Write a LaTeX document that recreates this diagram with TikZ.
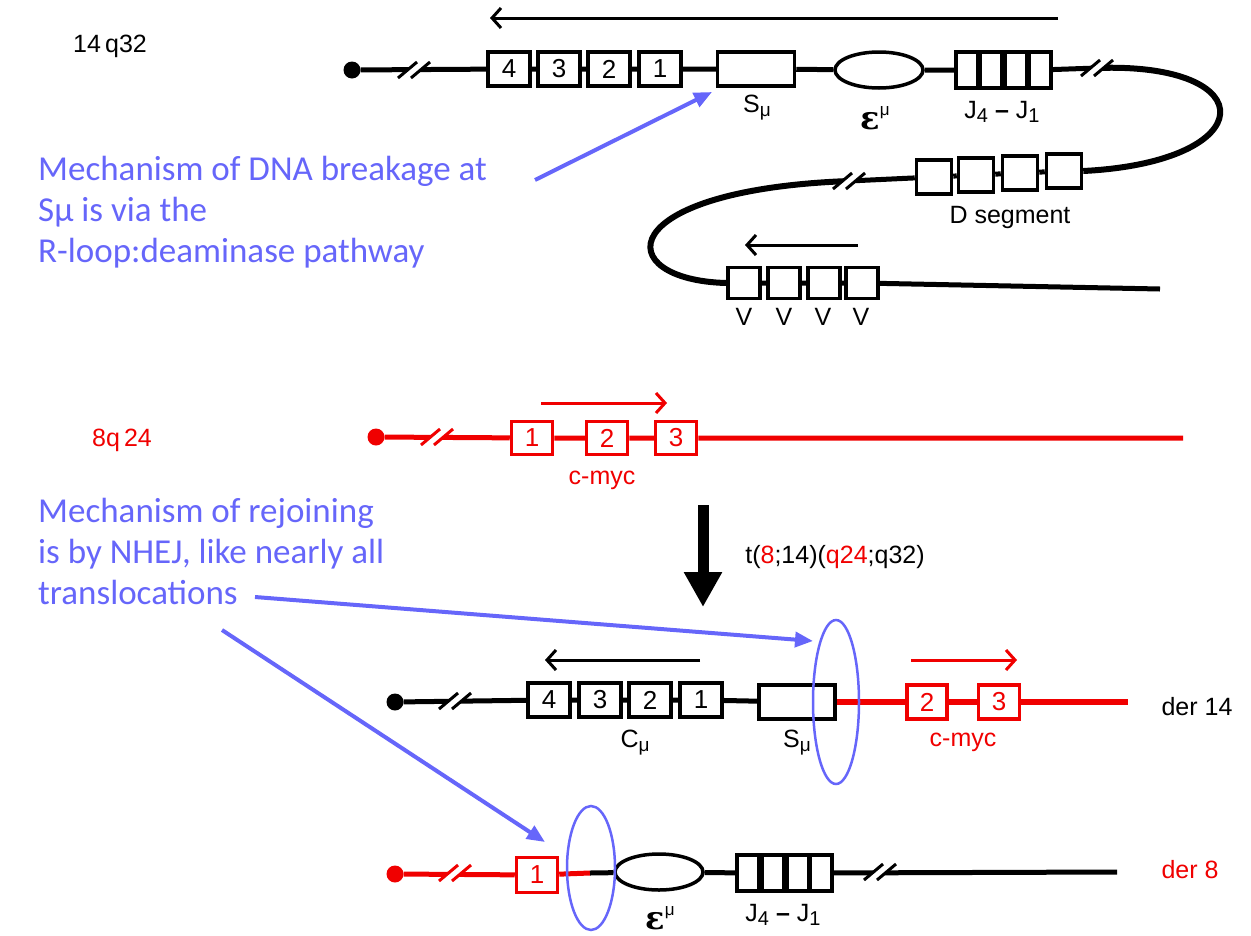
\documentclass[tikz,border=0pt]{standalone}
\usepackage{fontspec}
\setmainfont{Liberation Sans}
\newfontfamily\notefont{Carlito}
\newfontfamily\epsfont{DejaVu Serif}
\usepackage{xcolor}
\usetikzlibrary{
	arrows.meta,
	shapes.geometric
}
\definecolor{NoteBlue}{RGB}{102,102,250}
\definecolor{MycRed}{RGB}{240,0,0}
\newcommand{\lblsize}{\fontsize{25}{30}\selectfont}
\newcommand{\boxsize}{\fontsize{26}{28}\selectfont}
\newcommand{\notesize}{\fontsize{35}{41}\selectfont}
\newcommand{\musub}{\raisebox{-0.3ex}{\fontsize{19}{19}\selectfont μ}}
\newcommand{\Smu}{S\musub}
\newcommand{\Cmu}{C\musub}
\newcommand{\Emu}{{\epsfont\bfseries\fontsize{32}{32}\selectfont ε}\raisebox{1.1ex}{\fontsize{17}{17}\selectfont μ}}
\newcommand{\Jrange}{J\raisebox{-0.3ex}{\fontsize{20}{20}\selectfont 4} \textbf{–} J\raisebox{-0.3ex}{\fontsize{20}{20}\selectfont 1}}
\tikzset{
	chrom/.style={line width=5pt},
	gbox/.style={draw, line width=3.5pt, fill=white, minimum width=42pt, minimum height=34pt, inner sep=0pt, font=\boxsize},
	jbox/.style={gbox, minimum width=22pt, minimum height=36pt},
	telo/.style={circle, fill, inner sep=0pt, minimum size=17pt},
	enh/.style={ellipse, draw, line width=3.5pt, fill=white, minimum width=88pt, minimum height=36pt},
	lbl/.style={font=\lblsize, inner sep=0pt},
	dirarrow/.style={line width=3pt, -{Straight Barb[length=9pt,width=20pt]}},
	note/.style={font=\notefont\notesize, text=NoteBlue, align=left, inner sep=0pt},
	notearrow/.style={NoteBlue, line width=4pt, -{Triangle[length=18pt,width=15pt]}},
	joinring/.style={ellipse, draw=NoteBlue, line width=2.5pt, inner sep=0pt},
	gapmark/.pic={
		\fill[white] (-16,8) -- (3,-8) -- (16,-8) -- (-3,8) -- cycle;
		\draw[line width=3pt] (-16,8) -- (3,-8) (-3,8) -- (16,-8);
	}
}

\begin{document}
\begin{tikzpicture}[x=1pt, y=-1pt]
	\useasboundingbox (0,0) rectangle (1251,935);
	% 14q32
	\node[lbl] (lab14) at (110,46) {14\,q32};
	\node[telo] (tel14) at (352,70) {};
	\node[gbox] (c4) at (509,69) {4};
	\node[gbox] (c3) at (559,69) {3};
	\node[gbox] (c2) at (609,69) {2};
	\node[gbox] (c1) at (660,69) {1};
	\node[gbox, minimum width=77pt] (smu) at (756,69) {};
	\node[enh] (emu) at (879,70) {};
	\node[jbox] (j4) at (967,70) {};
	\node[jbox] (j3) at (991,70) {};
	\node[jbox] (j2) at (1016,70) {};
	\node[jbox] (j1) at (1040,70) {};
	\node[gbox, minimum width=35pt] (d1) at (934,177) {};
	\node[gbox, minimum width=35pt] (d2) at (976,175) {};
	\node[gbox, minimum width=35pt] (d3) at (1020,173) {};
	\node[gbox, minimum width=35pt] (d4) at (1064,171) {};
	\node[gbox, minimum width=32pt, minimum height=31pt] (v1) at (744,283) {};
	\node[gbox, minimum width=32pt, minimum height=31pt] (v2) at (784,283) {};
	\node[gbox, minimum width=32pt, minimum height=31pt] (v3) at (824,283) {};
	\node[gbox, minimum width=32pt, minimum height=31pt] (v4) at (862,283) {};
	\coordinate (cut14a) at (414,70);
	\coordinate (cut14b) at (1097,68);
	\coordinate (cut14c) at (849,181);
	\coordinate (end14) at (1160,289);
	\draw[chrom] (tel14) -- (c4) -- (c3) -- (c2) -- (c1) -- (smu) -- (emu) -- (j4) -- (j3) -- (j2) -- (j1) -- (cut14b);
	\draw[chrom, line width=6pt] (cut14b) .. controls (1265,62) and (1262,162) .. (d4.east);
	\draw[chrom] (d4) -- (d3) -- (d2) -- (d1) -- (cut14c);
	\draw[chrom, line width=6pt] (cut14c) .. controls (610,190) and (610,280) .. (v1.west);
	\draw[chrom] (v1) -- (v2) -- (v3) -- (v4) -- (end14);
	\pic at (cut14a) {gapmark};
	\pic at (cut14b) {gapmark};
	\pic at (cut14c) {gapmark};
	\coordinate (dir14a) at (1058,18);
	\coordinate (dir14b) at (490,18);
	\draw[dirarrow] (dir14a) -- (dir14b);
	\coordinate (dirVa) at (858,245);
	\coordinate (dirVb) at (745,245);
	\draw[dirarrow] (dirVa) -- (dirVb);
	\node[lbl] (smulab) at (757,108) {\Smu};
	\node[lbl] (emulab) at (875,118) {\Emu};
	\node[lbl] (jlab) at (1002,112) {\Jrange};
	\node[lbl] (dlab) at (1010,217) {D segment};
	\node[lbl] (vlab1) at (744,317) {V};
	\node[lbl] (vlab2) at (784,317) {V};
	\node[lbl] (vlab3) at (823,317) {V};
	\node[lbl] (vlab4) at (861,317) {V};

	% 8q24
	\begin{scope}[MycRed]
		\node[lbl] (lab8) at (122,440) {8q\,24};
		\node[telo] (tel8) at (376,437) {};
		\node[gbox, draw=MycRed, minimum width=41pt, minimum height=33pt] (m1) at (532,438) {1};
		\node[gbox, draw=MycRed, minimum width=41pt, minimum height=33pt] (m2) at (607,438) {2};
		\node[gbox, draw=MycRed, minimum width=41pt, minimum height=33pt] (m3) at (676,438) {3};
		\coordinate (cut8) at (437,437);
		\coordinate (end8) at (1183,438);
		\draw[chrom] (tel8) -- (m1) -- (m2) -- (m3) -- (end8);
		\pic at (cut8) {gapmark};
		\coordinate (dir8a) at (541,403);
		\coordinate (dir8b) at (667,403);
		\draw[dirarrow] (dir8a) -- (dir8b);
		\node[lbl] (myclab) at (602,480) {c-myc};
	\end{scope}

	% translocation
	\coordinate (bigA) at (703,505);
	\coordinate (bigB) at (703,607);
	\draw[line width=11pt, -{Triangle[length=35pt,width=36pt]}] (bigA) -- (bigB);
	\node[lbl] (tlab) at (835,557) {t(\textcolor{MycRed}{8};14)(\textcolor{MycRed}{q24};q32)};

	% der 14
	\node[telo] (tel14d) at (395,702) {};
	\node[gbox] (e4) at (549,700) {4};
	\node[gbox] (e3) at (600,700) {3};
	\node[gbox] (e2) at (650,700) {2};
	\node[gbox] (e1) at (701,700) {1};
	\node[gbox, minimum width=76pt] (smu2) at (797,702) {};
	\node[gbox, draw=MycRed, text=MycRed, minimum width=40pt] (r2) at (927,702) {2};
	\node[gbox, draw=MycRed, text=MycRed, minimum width=41pt] (r3) at (999,702) {3};
	\coordinate (cutd14) at (455,701);
	\coordinate (endd14) at (1128,702);
	\draw[chrom] (tel14d) -- (e4) -- (e3) -- (e2) -- (e1) -- (smu2);
	\draw[chrom, MycRed, line width=6pt] (smu2) -- (r2) -- (r3) -- (endd14);
	\pic at (cutd14) {gapmark};
	\coordinate (dird14a) at (700,660);
	\coordinate (dird14b) at (545,660);
	\draw[dirarrow] (dird14a) -- (dird14b);
	\coordinate (dirm14a) at (911,660);
	\coordinate (dirm14b) at (1017,660);
	\draw[dirarrow, MycRed] (dirm14a) -- (dirm14b);
	\node[lbl] (cmulab) at (635,743) {\Cmu};
	\node[lbl] (smulab2) at (797,743) {\Smu};
	\node[lbl, text=MycRed] (myclab2) at (963,742) {c-myc};
	\node[lbl] (der14) at (1197,707) {der 14};
	\node[joinring, minimum width=46pt, minimum height=164pt] (ring14) at (836,702) {};

	% der 8
	\node[telo, MycRed] (tel8d) at (395,874) {};
	\node[gbox, draw=MycRed, text=MycRed, minimum width=41pt, minimum height=35pt] (k1) at (537,875) {1};
	\node[enh] (emu2) at (659,872) {};
	\node[jbox] (q4) at (748,873) {};
	\node[jbox] (q3) at (773,873) {};
	\node[jbox] (q2) at (798,873) {};
	\node[jbox] (q1) at (821,873) {};
	\coordinate (joint8) at (590,873);
	\coordinate (cutd8a) at (455,873);
	\coordinate (cutd8b) at (880,872);
	\coordinate (endd8) at (1117,872);
	\draw[chrom, MycRed] (tel8d) -- (k1) -- (joint8);
	\draw[chrom] (joint8) -- (emu2) -- (q4) -- (q3) -- (q2) -- (q1) -- (endd8);
	\pic[MycRed] at (cutd8a) {gapmark};
	\pic at (cutd8b) {gapmark};
	\node[lbl] (emulab2) at (660,918) {\Emu};
	\node[lbl] (jlab2) at (783,915) {\Jrange};
	\node[lbl, text=MycRed] (der8) at (1190,870) {der 8};
	\node[joinring, minimum width=48pt, minimum height=124pt] (ring8) at (591,868) {};

	% notes
	\node[note, anchor=north west] (note1) at (38,156) {Mechanism of DNA breakage at\\Sμ is via the\\R-loop:deaminase pathway};
	\coordinate (n1s) at (535,180);
	\coordinate (n1t) at (712,92);
	\draw[notearrow] (n1s) -- (n1t);
	\node[note, anchor=north west] (note2) at (38,498) {Mechanism of rejoining\\is by NHEJ, like nearly all\\translocations};
	\coordinate (n2s) at (255,597);
	\coordinate (n2t) at (813,641);
	\draw[notearrow] (n2s) -- (n2t);
	\coordinate (n3s) at (222,630);
	\coordinate (n3t) at (545,842);
	\draw[notearrow] (n3s) -- (n3t);
\end{tikzpicture}
\end{document}
